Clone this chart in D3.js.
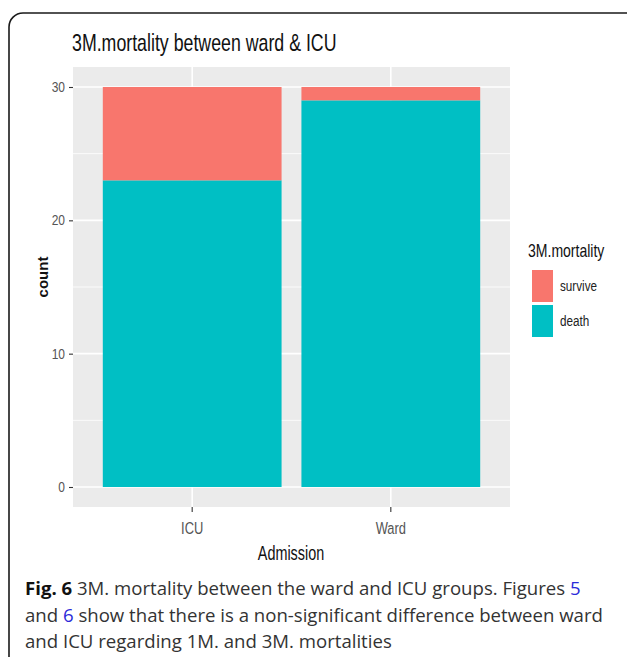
<!DOCTYPE html>
<html>
<head>
<meta charset="utf-8">
<script src="https://cdn.jsdelivr.net/npm/d3@7"></script>
<style>
  body { margin: 0; background: #fff; }
  svg { display: block; }
</style>
</head>
<body>
<div id="chart-area"></div>
<script>
// values
var categories = ["ICU", "Ward"];
var deathCounts = [23, 29];
var surviveCounts = [7, 1];
var groups = ["survive", "death"];
var groupColors = ["#F8766D", "#00BFC4"];
var yTicks = [0, 10, 20, 30];
var yMinor = [5, 15, 25];

var width = 627, height = 657;
var panel = {left: 73, right: 510, top: 67, bottom: 507};

var svg = d3.select("#chart-area")
    .append("svg")
        .attr("width", width)
        .attr("height", height);

// frame around figure
svg.append("rect")
    .attr("x", 9).attr("y", 13)
    .attr("width", 640).attr("height", 680)
    .attr("rx", 14)
    .attr("fill", "none")
    .attr("stroke", "#1a1a1a")
    .attr("stroke-width", 1.6);

// narrow text helper (the plot was squeezed sideways)
function narrow(parent, x, y, str, size, sx, anchor, weight, color) {
    parent.append("g")
        .attr("transform", "translate(" + x + "," + y + ") scale(" + sx + ",1)")
        .append("text")
            .attr("text-anchor", anchor || "start")
            .attr("font-family", "Liberation Sans, Arial, sans-serif")
            .attr("font-size", size + "px")
            .attr("font-weight", weight || "normal")
            .attr("fill", color || "#000")
            .text(str);
}

var rows = categories.map(function (c, i) {
    return {name: c, death: deathCounts[i], survive: surviveCounts[i]};
});

var x = d3.scaleBand()
    .domain(categories)
    .range([panel.left, panel.right])
    .paddingInner(0.1)
    .paddingOuter(0.15);

var y = d3.scaleLinear()
    .domain([-1.5, 31.5])
    .range([panel.bottom, panel.top]);

// panel background + grid
svg.append("rect")
    .attr("x", panel.left).attr("y", panel.top)
    .attr("width", panel.right - panel.left)
    .attr("height", panel.bottom - panel.top)
    .attr("fill", "#EBEBEB");

svg.selectAll(".minor")
    .data(yMinor)
    .enter().append("line")
        .attr("x1", panel.left).attr("x2", panel.right)
        .attr("y1", function (d) { return y(d); })
        .attr("y2", function (d) { return y(d); })
        .attr("stroke", "#fff").attr("stroke-width", 0.8);

svg.selectAll(".major")
    .data(yTicks)
    .enter().append("line")
        .attr("x1", panel.left).attr("x2", panel.right)
        .attr("y1", function (d) { return y(d); })
        .attr("y2", function (d) { return y(d); })
        .attr("stroke", "#fff").attr("stroke-width", 1.6);

svg.selectAll(".vgrid")
    .data(categories)
    .enter().append("line")
        .attr("x1", function (d) { return x(d) + x.bandwidth() / 2; })
        .attr("x2", function (d) { return x(d) + x.bandwidth() / 2; })
        .attr("y1", panel.top).attr("y2", panel.bottom)
        .attr("stroke", "#fff").attr("stroke-width", 1.6);

// stacked bars, death at the bottom
var stack = d3.stack().keys(["death", "survive"]);
var series = stack(rows);

svg.selectAll(".layer")
    .data(series)
    .enter().append("g")
        .attr("fill", function (s) { return groupColors[groups.indexOf(s.key)]; })
    .selectAll("rect")
    .data(function (s) { return s; })
    .enter().append("rect")
        .attr("x", function (d) { return x(d.data.name); })
        .attr("width", x.bandwidth())
        .attr("y", function (d) { return y(d[1]); })
        .attr("height", function (d) { return y(d[0]) - y(d[1]); });

// axes
var leftAxis = d3.axisLeft(y).tickValues(yTicks).tickSize(4).tickPadding(3);
var gl = svg.append("g")
    .attr("transform", "translate(" + panel.left + ",0)")
    .call(leftAxis);
gl.select(".domain").remove();
gl.selectAll("line").attr("stroke", "#333").attr("stroke-width", 1.1);
gl.selectAll("text").remove();
yTicks.forEach(function (t) {
    narrow(svg, panel.left - 8, y(t) + 5, String(t), 15, 0.8, "end", "normal", "#555");
});

var bottomAxis = d3.axisBottom(x).tickSize(5);
var gb = svg.append("g")
    .attr("transform", "translate(0," + panel.bottom + ")")
    .call(bottomAxis);
gb.select(".domain").remove();
gb.selectAll("line").attr("stroke", "#333").attr("stroke-width", 1.1);
gb.selectAll("text").remove();
categories.forEach(function (c) {
    narrow(svg, x(c) + x.bandwidth() / 2, 534, c, 17, 0.76, "middle", "normal", "#555");
});

// titles
narrow(svg, 72, 51, "3M.mortality between ward & ICU", 24, 0.74, "start", "normal", "#111");
narrow(svg, 291, 560, "Admission", 20, 0.72, "middle", "normal", "#111");

svg.append("text")
    .attr("transform", "translate(48,277) rotate(-90)")
    .attr("text-anchor", "middle")
    .attr("font-family", "Liberation Sans, Arial, sans-serif")
    .attr("font-size", "15px")
    .attr("font-weight", "bold")
    .attr("fill", "#111")
    .text("count");

// legend
narrow(svg, 528, 257, "3M.mortality", 18, 0.78, "start", "normal", "#111");
var leg = svg.selectAll(".leg")
    .data(groups)
    .enter().append("g")
        .attr("transform", function (d, i) { return "translate(532," + (270 + i * 35) + ")"; });
leg.append("rect")
    .attr("width", 21).attr("height", 32)
    .attr("fill", function (d, i) { return groupColors[i]; });
leg.each(function (d) {
    narrow(d3.select(this), 28, 21, d, 15, 0.78, "start", "normal", "#222");
});

// caption
var caption = svg.append("text")
    .attr("font-family", "Open Sans, sans-serif")
    .attr("font-size", "18.6px")
    .attr("fill", "#333");
var l1 = caption.append("tspan").attr("x", 25).attr("y", 595);
l1.append("tspan").attr("font-weight", "bold").attr("fill", "#111").text("Fig. 6");
l1.append("tspan").text(" 3M. mortality between the ward and ICU groups. Figures ");
l1.append("tspan").attr("fill", "#2b2bd9").text("5");
var l2 = caption.append("tspan").attr("x", 25).attr("y", 622);
l2.append("tspan").text("and ");
l2.append("tspan").attr("fill", "#2b2bd9").text("6");
l2.append("tspan").text(" show that there is a non-significant difference between ward");
caption.append("tspan").attr("x", 25).attr("y", 648)
    .text("and ICU regarding 1M. and 3M. mortalities");
</script>
</body>
</html>
